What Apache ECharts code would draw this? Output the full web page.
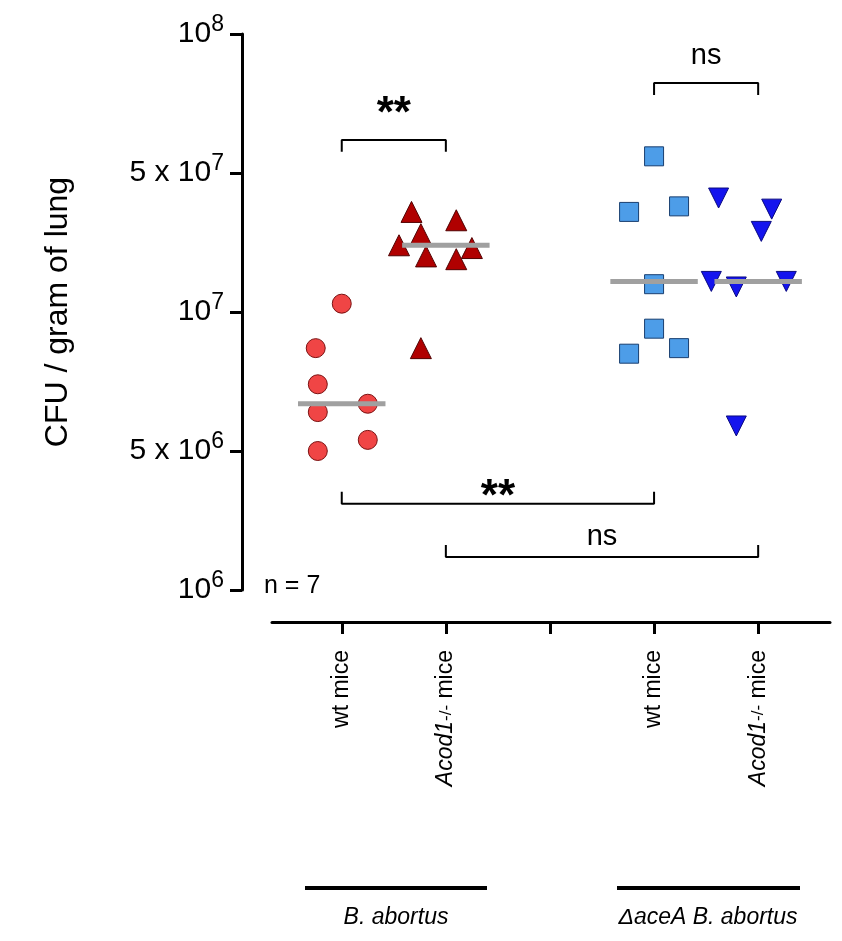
<!DOCTYPE html>
<html><head><meta charset="utf-8">
<script src="https://cdn.jsdelivr.net/npm/echarts@6/dist/echarts.min.js"></script>
<style>html,body{margin:0;background:#fff}#main{width:842px;height:941px}</style>
</head><body><div id="main"></div>
<script>
// group positions on the x axis (3 is the gap tick)
const groupX = [1, 2, 4, 5];
const groupNames = ['wt mice', 'Acod1-/- mice', 'wt mice', 'Acod1-/- mice'];
// values as log-style axis units (6 = 10^6 ... 8 = 10^8, ticks every 0.5)
const wtBa = [[0, 7.03], [-0.25, 6.87], [-0.23, 6.74], [-0.23, 6.64], [0.25, 6.67], [0.25, 6.54], [-0.23, 6.50]];
const acodBa = [[-0.33, 7.36], [0.1, 7.33], [-0.24, 7.28], [-0.45, 7.24], [0.25, 7.23], [-0.19, 7.20], [0.1, 7.19], [-0.24, 6.87]];
const wtAce = [[0, 7.56], [-0.24, 7.36], [0.24, 7.38], [0, 7.10], [0, 6.94], [-0.24, 6.85], [0.24, 6.87]];
const acodAce = [[-0.38, 7.41], [0.13, 7.37], [0.03, 7.29], [-0.45, 7.11], [-0.21, 7.09], [0.27, 7.11], [-0.21, 6.59]];
const medians = [6.67, 7.24, 7.11, 7.11];
const yTicks = [6, 6.5, 7, 7.5, 8];
const yLabels = ['{b|10}{s|6}', '{b|5 x 10}{s|6}', '{b|10}{s|7}', '{b|5 x 10}{s|7}', '{b|10}{s|8}'];

const shift = (arr, gx) => arr.map(p => [gx + p[0], p[1]]);
const medianSegs = [];
medians.forEach((m, i) => { medianSegs.push([groupX[i] - 0.42, m], [groupX[i] + 0.42, m], [null, null]); });

// brackets: [x1, x2, yLine, yEnd]
const brackets = [[1, 2, 7.619, 7.576], [4, 5, 7.824, 7.781], [1, 4, 6.31, 6.353], [2, 5, 6.119, 6.162]];
const bracketPts = [];
brackets.forEach(b => { bracketPts.push([b[0], b[3]], [b[0], b[2]], [b[1], b[2]], [b[1], b[3]], [null, null]); });
const sigLabels = [[1.5, 7.71, '**'], [4.5, 7.92, 'ns'], [2.5, 6.33, '**'], [3.5, 6.19, 'ns']];

const chart = echarts.init(document.getElementById('main'));
const font = 'Liberation Sans, Arial, sans-serif';
chart.setOption({
  animation: false,
  grid: { left: 272, right: 12, top: 34, bottom: 351 },
  xAxis: {
    type: 'value', min: 0.33, max: 5.69, offset: 32,
    axisLine: { lineStyle: { color: '#000', width: 3 } },
    splitLine: { show: false },
    axisTick: { customValues: [1, 2, 3, 4, 5], length: 12, lineStyle: { color: '#000', width: 3 } },
    axisLabel: {
      customValues: groupX, rotate: 90, margin: 28, color: '#000', fontFamily: font, fontSize: 23,
      formatter: v => {
        const i = groupX.indexOf(v);
        return i % 2 === 0 ? '{n|wt mice}' : '{i|Acod1}{s|-/-}{n| mice}';
      },
      rich: { n: { fontSize: 23, fontFamily: font }, i: { fontSize: 23, fontStyle: 'italic', fontFamily: font }, s: { fontSize: 17, fontFamily: font } }
    }
  },
  yAxis: {
    type: 'value', min: 6, max: 8, offset: 30,
    name: 'CFU / gram of lung', nameLocation: 'middle', nameGap: 168, nameRotate: 90,
    nameTextStyle: { fontSize: 32, fontFamily: font, color: '#000' },
    axisLine: { show: true, lineStyle: { color: '#000', width: 3 } },
    splitLine: { show: false },
    axisTick: { show: true, customValues: yTicks, length: 12, lineStyle: { color: '#000', width: 3 } },
    axisLabel: {
      customValues: yTicks, margin: 18, color: '#000',
      formatter: v => yLabels[yTicks.indexOf(v)],
      rich: { b: { fontSize: 30, fontFamily: font }, s: { fontSize: 23, fontFamily: font, verticalAlign: 'bottom', padding: [0, 0, 18, 0] } }
    }
  },
  graphic: [
    { type: 'text', left: 264, top: 574, style: { text: 'n = 7', fontSize: 25, fontFamily: font, fill: '#000' } },
    { type: 'rect', shape: { x: 305, y: 886, width: 182, height: 4 }, style: { fill: '#000' } },
    { type: 'rect', shape: { x: 617, y: 886, width: 183, height: 4 }, style: { fill: '#000' } },
    { type: 'text', x: 396, y: 918, style: { text: 'B. abortus', fontSize: 23, fontStyle: 'italic', fontFamily: font, fill: '#000', align: 'center', verticalAlign: 'middle' } },
    { type: 'text', x: 708, y: 918, style: { text: 'ΔaceA B. abortus', fontSize: 23, fontStyle: 'italic', fontFamily: font, fill: '#000', align: 'center', verticalAlign: 'middle' } }
  ],
  series: [
    { type: 'line', data: bracketPts, symbol: 'none', connectNulls: false, lineStyle: { color: '#000', width: 2 }, z: 1 },
    { type: 'scatter', data: shift(wtBa, 1), symbol: 'circle', symbolSize: 19, itemStyle: { opacity: 1, color: '#f04545', borderColor: '#7a1010', borderWidth: 1 }, z: 3 },
    { type: 'scatter', data: shift(acodBa, 2), symbol: 'triangle', symbolSize: 21, itemStyle: { opacity: 1, color: '#b00000', borderColor: '#500000', borderWidth: 1 }, z: 3 },
    { type: 'scatter', data: shift(wtAce, 4), symbol: 'rect', symbolSize: 19, itemStyle: { opacity: 1, color: '#4d9de8', borderColor: '#1a3f70', borderWidth: 1 }, z: 3 },
    { type: 'scatter', data: shift(acodAce, 5), symbol: 'triangle', symbolRotate: 180, symbolSize: 20, itemStyle: { opacity: 1, color: '#1414ee', borderColor: '#0a0a80', borderWidth: 1 }, z: 3 },
    { type: 'line', data: medianSegs, symbol: 'none', connectNulls: false, lineStyle: { color: '#a0a0a0', width: 5 }, z: 4 },
    {
      type: 'scatter', data: sigLabels.map(s => ({ value: [s[0], s[1]], name: s[2], label: { fontSize: s[2] === '**' ? 44 : 29, fontWeight: s[2] === '**' ? 'bold' : 'normal' } })),
      symbolSize: 0, itemStyle: { opacity: 1 },
      label: { show: true, formatter: p => p.name, fontFamily: font, color: '#000', position: 'inside', textBorderWidth: 0 }, z: 5
    }
  ]
});
</script></body></html>
